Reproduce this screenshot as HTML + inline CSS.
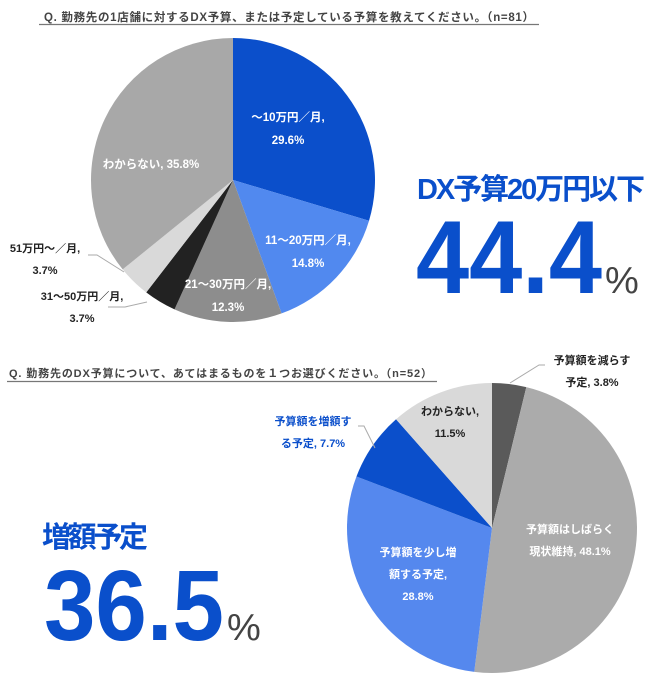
<!DOCTYPE html>
<html><head><meta charset="utf-8"><style>
html,body{margin:0;padding:0;background:#fff;width:650px;height:680px;overflow:hidden}
svg{display:block;font-family:"Liberation Sans","Noto Sans CJK JP",sans-serif}
</style></head><body>
<svg id="chart" width="650" height="680" viewBox="0 0 650 680">
<text x="44" y="21" font-size="11.5" font-weight="bold" fill="#444" textLength="490">Q.  勤務先の1店舗に対するDX予算、または予定している予算を教えてください。（n=81）</text>
<line x1="39" y1="24.5" x2="539" y2="24.5" stroke="#777" stroke-width="1.2"/>
<g id="pie1"></g>
<text x="417" y="199" font-size="29" font-weight="bold" fill="#0a4fcb" textLength="228">DX予算20万円以下</text>
<text x="416" y="293" font-size="104" font-weight="bold" fill="#0a4fcb" textLength="186" lengthAdjust="spacingAndGlyphs">44.4</text>
<text x="605" y="293" font-size="38" fill="#444">%</text>

<text x="9" y="377" font-size="11" font-weight="bold" fill="#444" textLength="423">Q. 勤務先のDX予算について、あてはまるものを１つお選びください。（n=52）</text>
<line x1="7" y1="381.5" x2="437" y2="381.5" stroke="#777" stroke-width="1.2"/>
<g id="pie2"></g>
<text x="42" y="547" font-size="29" font-weight="bold" fill="#0a4fcb" textLength="106">増額予定</text>
<text x="44" y="640" font-size="100" font-weight="bold" fill="#0a4fcb" textLength="180" lengthAdjust="spacingAndGlyphs">36.5</text>
<text x="227" y="640" font-size="38" fill="#444">%</text>
</svg>
<script>
const pie1Categories = ["〜10万円／月", "11〜20万円／月", "21〜30万円／月", "31〜50万円／月", "51万円〜／月", "わからない"];
const pie1Values = [29.6, 14.8, 12.3, 3.7, 3.7, 35.8];
const pie1Colors = ["#0b4fcb", "#5189ef", "#8d8d8d", "#222222", "#d9d9d9", "#a8a8a8"];
const pie2Categories = ["予算額を減らす予定", "予算額はしばらく現状維持", "予算額を少し増額する予定", "予算額を増額する予定", "わからない"];
const pie2Values = [3.8, 48.1, 28.8, 7.7, 11.5];
const pie2Colors = ["#5a5a5a", "#ababab", "#5588ee", "#0b4fcb", "#d9d9d9"];

const NS = "http://www.w3.org/2000/svg";
function drawPie(gid, values, colors, names, cx, cy, r) {
  const g = document.getElementById(gid);
  const total = values.reduce((a, b) => a + b, 0);
  let a0 = 0;
  values.forEach((v, i) => {
    const a1 = a0 + v / total * Math.PI * 2;
    const x0 = cx + r * Math.sin(a0), y0 = cy - r * Math.cos(a0);
    const x1 = cx + r * Math.sin(a1), y1 = cy - r * Math.cos(a1);
    const large = (a1 - a0) > Math.PI ? 1 : 0;
    const p = document.createElementNS(NS, "path");
    p.setAttribute("d", `M${cx},${cy} L${x0},${y0} A${r},${r} 0 ${large} 1 ${x1},${y1} Z`);
    p.setAttribute("fill", colors[i]);
    
    
    g.appendChild(p);
    a0 = a1;
  });
}
drawPie("pie1", pie1Values, pie1Colors, pie1Categories, 233, 180, 142);
drawPie("pie2", pie2Values, pie2Colors, pie2Categories, 492, 528, 145);

function label(lines, x, y, color, size, anchor, name) {
  const t = document.createElementNS(NS, "text");
  t.setAttribute("x", x); t.setAttribute("y", y);
  t.setAttribute("fill", color); t.setAttribute("font-size", size);
  t.setAttribute("font-weight", "bold"); t.setAttribute("text-anchor", anchor || "middle");
  lines.forEach((s, i) => {
    const sp = document.createElementNS(NS, "tspan");
    sp.setAttribute("x", x); sp.setAttribute("dy", i ? size * 2 : 0);
    sp.textContent = s; t.appendChild(sp);
  });
  
  
  document.getElementById("chart").appendChild(t);
}
const f1 = v => v.toFixed(1) + "%";
label([pie1Categories[0] + ",", f1(pie1Values[0])], 288, 121, "#fff", 11.5, "middle", "label-slice-1");
label([pie1Categories[1] + ",", f1(pie1Values[1])], 308, 244, "#fff", 11.5, "middle", "label-slice-2");
label([pie1Categories[2] + ",", f1(pie1Values[2])], 228, 288, "#fff", 11.5, "middle", "label-slice-3");
label([pie1Categories[3] + ",", f1(pie1Values[3])], 82, 300, "#222", 11, "middle", "label-slice-4");
label([pie1Categories[4] + ",", f1(pie1Values[4])], 45, 252, "#222", 11, "middle", "label-slice-5");
label([pie1Categories[5] + ", " + f1(pie1Values[5])], 151, 168, "#fff", 11.5, "middle", "label-slice-6");

label(["予算額を減らす", "予定, " + f1(pie2Values[0])], 592, 364, "#222", 11, "middle", "label-slice-decrease");
label(["予算額はしばらく", "現状維持, " + f1(pie2Values[1])], 570, 533, "#fff", 11, "middle", "label-slice-maintain");
label(["予算額を少し増", "額する予定,", f1(pie2Values[2])], 418, 556, "#fff", 11, "middle", "label-slice-small-increase");
label(["予算額を増額す", "る予定, " + f1(pie2Values[3])], 313, 425, "#0b4fcb", 11, "middle", "label-slice-increase");
label(["わからない,", f1(pie2Values[4])], 450, 415, "#222", 11, "middle", "label-slice-unknown");

function leader(pts, name) {
  const l = document.createElementNS(NS, "polyline");
  l.setAttribute("points", pts); l.setAttribute("fill", "none");
  l.setAttribute("stroke", "#aaa"); l.setAttribute("stroke-width", "1");
  
  
  document.getElementById("chart").appendChild(l);
}
leader("88,255 97,255 124,272", "leader-51");
leader("108,307 125,307 147,302", "leader-31-50");
leader("358,426 364,426 375,448", "leader-increase");
leader("545,365 539,365 510,383", "leader-decrease");
</script>
</body></html>
